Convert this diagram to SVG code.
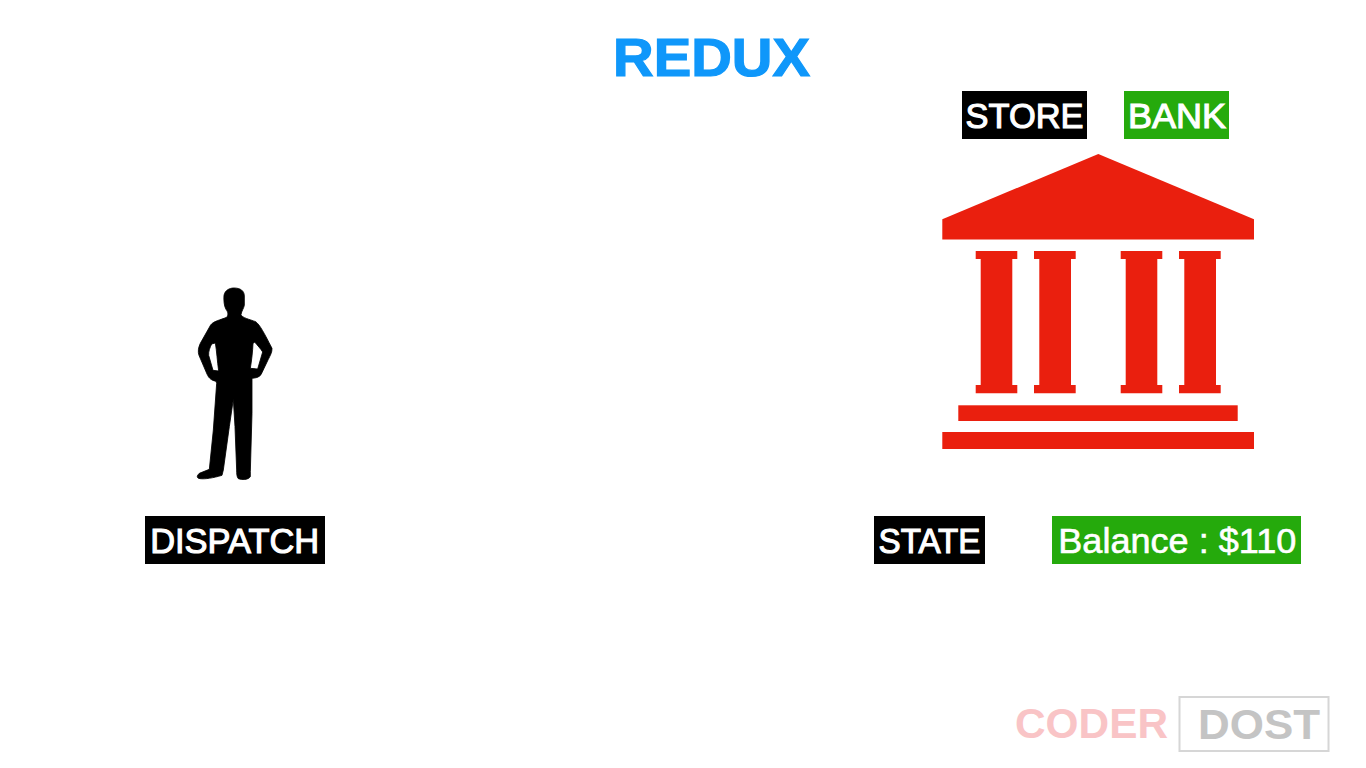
<svg xmlns="http://www.w3.org/2000/svg" width="1366" height="768" viewBox="0 0 1366 768">
<style>
.lb{font-family:"Liberation Sans",Arial,sans-serif;font-size:35px;fill:#fff;text-anchor:middle;stroke:#fff;stroke-width:1.100px}
.blk{fill:#000}.grn{fill:#25aa0c}.red{fill:#ea1f0e}
</style>
<rect width="1366" height="768" fill="#fff"/>
<text x="711.500" y="76" font-family="'Liberation Sans',Arial,sans-serif" font-weight="700" font-size="53.500" fill="#0f97fa" stroke="#0f97fa" stroke-width="1.200" text-anchor="middle" textLength="197" lengthAdjust="spacingAndGlyphs">REDUX</text>
<g id="store-label"><rect class="blk" x="962" y="91" width="125" height="48"/><text class="lb" x="1024.500" y="128" textLength="118" lengthAdjust="spacingAndGlyphs">STORE</text></g>
<g id="bank-label"><rect class="grn" x="1124" y="91" width="105" height="48"/><text class="lb" x="1177" y="128" textLength="98" lengthAdjust="spacingAndGlyphs">BANK</text></g>
<g id="bank">
<path class="red" d="M1098.300 154L1254 219.300V239.500H942.300V219.300Z"/>
<path class="red" d="M975.700 251H1017.300V259H1012.300V385H1017.300V393.300H975.700V385H980.700V259H975.700Z"/>
<path class="red" d="M1034 251H1075.700V259H1071V385H1075.700V393.300H1034V385H1039.300V259H1034Z"/>
<path class="red" d="M1120.700 251H1162.300V259H1157.300V385H1162.300V393.300H1120.700V385H1125.700V259H1120.700Z"/>
<path class="red" d="M1179 251H1220.700V259H1216V385H1220.700V393.300H1179V385H1184.300V259H1179Z"/>
<rect class="red" x="958.300" y="405.300" width="279.400" height="15.700"/>
<rect class="red" x="942.300" y="432" width="311.700" height="17"/>
</g>
<g id="person">
<path transform="translate(170 280) scale(.3333)" fill="#000" stroke="#000" stroke-width="2.500" stroke-linejoin="round" fill-rule="evenodd" d="M192 24C212 24 223 33 223 48L223 76C221 86 215 92 213 104C216 113 238 118 257 125C270 135 282 158 306 205C307 216 300 228 295 238L273 284C266 293 256 294 246 295L246 400L241 575L241 590C235 600 215 600 205 596C200 590 200 580 200 570L195 440L190 358L178 440L160 570L156 586C130 594 105 598 90 596C79 594 80 588 88 580L118 568L130 450L140 310L138 304C125 301 117 296 111 282L87 226C83 215 85 203 91 190L122 135C130 124 150 120 170 112C176 104 174 96 168 88C162 78 161 60 162 46C165 31 178 24 192 24ZM125 192L136 189C140 212 142 245 146 273L129 271L116 226C115 214 120 202 125 192ZM249 191L254 186C262 196 272 206 278 216L263 267L241 265C245 240 248 215 249 191Z"/>
</g>
<g id="dispatch-label"><rect class="blk" x="145" y="516" width="180" height="48"/><text class="lb" x="234.700" y="553" textLength="169" lengthAdjust="spacingAndGlyphs">DISPATCH</text></g>
<g id="state-label"><rect class="blk" x="874" y="516" width="111" height="48"/><text class="lb" x="929.500" y="553" textLength="102" lengthAdjust="spacingAndGlyphs">STATE</text></g>
<g id="balance-label"><rect class="grn" x="1052" y="516" width="249" height="48"/><text class="lb" x="1177.300" y="553" textLength="238" lengthAdjust="spacingAndGlyphs" style="stroke-width:.6px">Balance : $110</text></g>
<g id="watermark" font-family="'Liberation Sans',Arial,sans-serif" font-weight="700" font-size="43">
<text x="1015" y="738" fill="#f9c4c6" textLength="153" lengthAdjust="spacingAndGlyphs">CODER</text>
<rect x="1179.500" y="697" width="149" height="54" fill="#fff" stroke="#d6d6d6" stroke-width="2"/>
<text x="1198" y="739" fill="#c4c4c4" textLength="122" lengthAdjust="spacingAndGlyphs">DOST</text>
</g>
</svg>
